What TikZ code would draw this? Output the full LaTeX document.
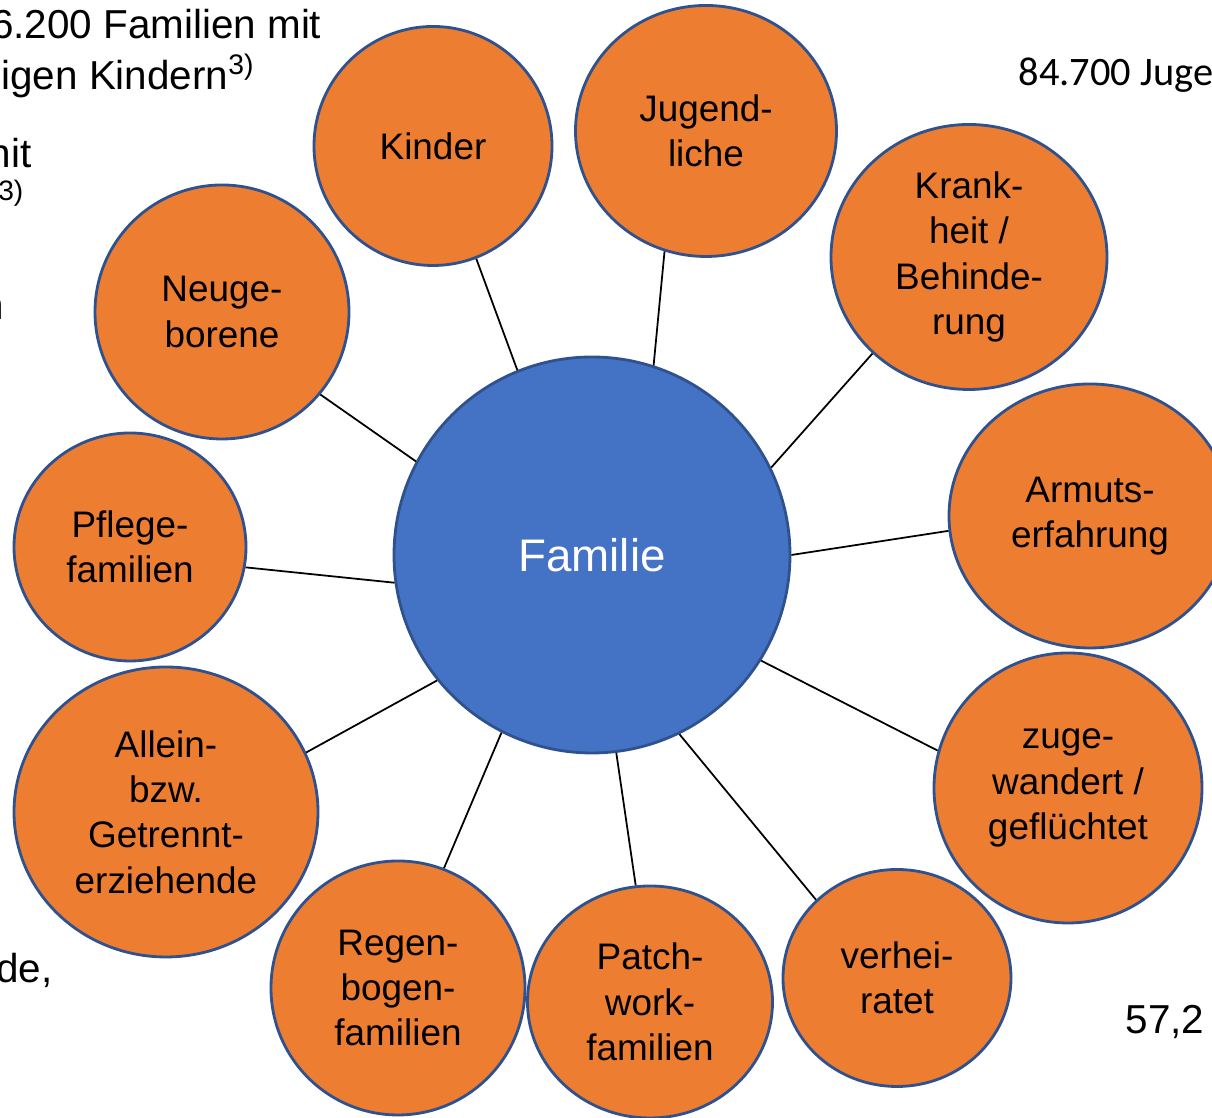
\documentclass[tikz,border=0pt]{standalone}
\usepackage{fontspec}
\setmainfont{Liberation Sans}
\newfontfamily\calibrifont{Carlito}
\usepackage{xcolor}
\usepackage{tikz}
\usetikzlibrary{shapes.geometric}
\definecolor{bubbleorange}{HTML}{ED7D31}
\definecolor{hubblue}{HTML}{4472C4}
\definecolor{rimblue}{HTML}{2F528F}
\def\PicWidth{12.12}
\def\PicHeight{11.18}

\tikzset{
	bubble/.style={ellipse,draw=rimblue,line width=0.8pt,fill=bubbleorange,inner sep=0pt,align=center,font=\fontsize{10.5}{12.9}\selectfont},
	hub/.style={bubble,fill=hubblue,text=white,font=\fontsize{13}{15}\selectfont},
	link/.style={line width=0.5pt},
	backtext/.style={inner sep=0pt,font=\fontsize{11.5}{13.8}\selectfont},
}

\begin{document}
\begin{tikzpicture}
	\useasboundingbox (0,0) rectangle (\PicWidth,\PicHeight);
	\clip (0,0) rectangle (\PicWidth,\PicHeight);
	% text lying behind the picture
	\node[backtext,anchor=base east] at (3.22,10.79) (t1) {6.200 Familien mit};
	\node[backtext,anchor=base east] at (2.56,10.28) (t2) {digen Kindern\textsuperscript{3)}};
	\node[backtext,anchor=base east] at (0.32,9.50) (t3) {nit};
	\node[backtext,anchor=base east,font=\fontsize{8}{9}\selectfont] at (0.24,9.17) (t4) {3)};
	\node[backtext,anchor=base east] at (0.05,7.98) (t5) {n};
	\node[backtext,anchor=base east] at (0.53,1.35) (t6) {de,};
	\node[backtext,anchor=base west,font=\calibrifont\fontsize{11.5}{13.8}\selectfont] at (10.18,10.32) (t7) {84.700 Juge};
	\node[backtext,anchor=base west] at (11.25,0.84) (t8) {57,2};
	% bubbles
	\node[hub,minimum width=3.96cm,minimum height=3.96cm] at (5.92,5.63) (familie) {Familie};
	\node[bubble,minimum width=2.38cm,minimum height=2.39cm] at (4.33,9.72) (kinder) {Kinder};
	\node[bubble,minimum width=2.61cm,minimum height=2.51cm] at (7.06,9.87) (jugend) {Jugend-\\liche};
	\node[bubble,minimum width=2.76cm,minimum height=2.65cm] at (9.69,8.61) (krank) {Krank-\\heit /\\Behinde-\\rung};
	\node[bubble,minimum width=2.82cm,minimum height=2.64cm] at (10.90,6.02) (armut) {Armuts-\\erfahrung};
	\node[bubble,minimum width=2.68cm,minimum height=2.70cm] at (10.68,3.30) (zugew) {zuge-\\wandert /\\geflüchtet};
	\node[bubble,minimum width=2.28cm,minimum height=2.17cm] at (8.97,1.40) (verh) {verhei-\\ratet};
	\node[bubble,minimum width=2.45cm,minimum height=2.32cm] at (6.50,1.16) (patch) {Patch-\\work-\\familien};
	\node[bubble,minimum width=2.54cm,minimum height=2.54cm] at (3.98,1.30) (regen) {Regen-\\bogen-\\familien};
	\node[bubble,minimum width=3.04cm,minimum height=2.90cm] at (1.66,3.06) (allein) {Allein-\\bzw.\\Getrennt-\\erziehende};
	\node[bubble,minimum width=2.32cm,minimum height=2.28cm] at (1.30,5.71) (pflege) {Pflege-\\familien};
	\node[bubble,minimum width=2.54cm,minimum height=2.54cm] at (2.22,8.06) (neuge) {Neuge-\\borene};
	% spokes: angle on the hub / angle on the bubble
	\foreach \n/\a/\b in {kinder/112.3/-69.3, jugend/72.7/-109.9, krank/26.7/-135.6,
		armut/0/186.1, zugew/-32.5/164.9, verh/-64.5/136.5, patch/-83/97.9,
		regen/-117.1/69.7, allein/-141.6/23.8, pflege/188.6/-10.3, neuge/152.8/-40.3}
		\draw[link] (familie.\a) -- (\n.\b);
\end{tikzpicture}
\end{document}
